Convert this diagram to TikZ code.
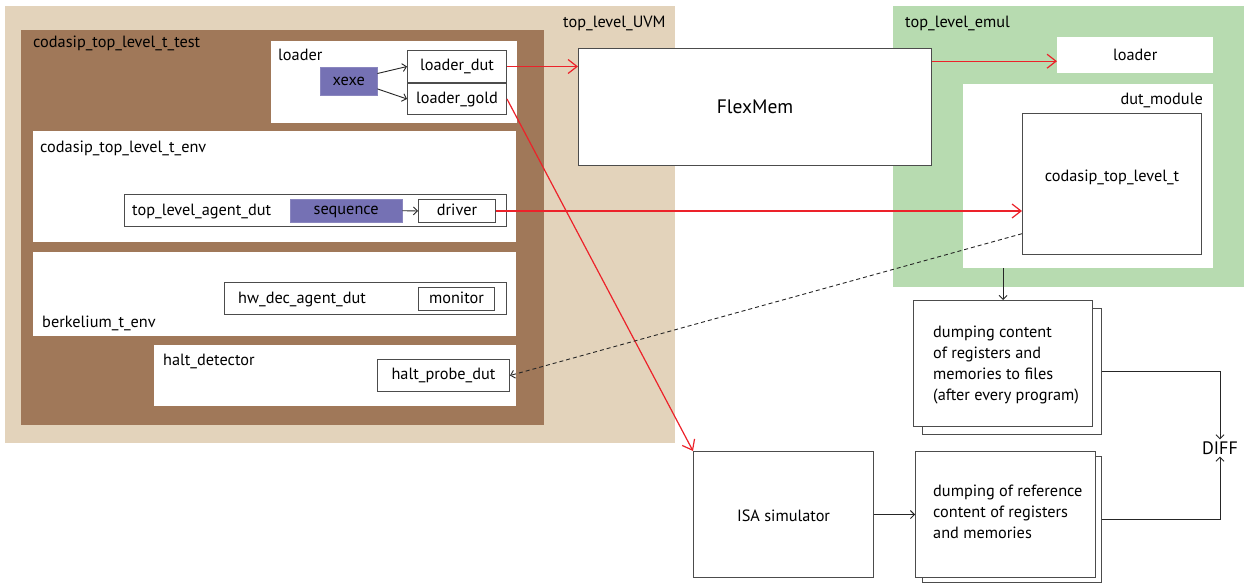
\documentclass[tikz,border=0pt]{standalone}
\usepackage{fontspec}
\setmainfont{PT Sans}
\usepackage{xcolor}
\usetikzlibrary{arrows.meta,positioning,calc}

\definecolor{uvmtan}{RGB}{227,211,187}
\definecolor{testbrown}{RGB}{160,120,89}
\definecolor{emulgreen}{RGB}{183,219,176}
\definecolor{seqblue}{RGB}{117,113,180}
\definecolor{sigred}{RGB}{236,34,42}

\begin{document}
\begin{tikzpicture}[
    x=1pt, y=-1pt,
    font=\fontsize{16.3}{18}\selectfont,
    area/.style={rectangle, fill=#1, draw=none, inner sep=0pt, anchor=north west},
    blk/.style={rectangle, draw=black!70, line width=1pt, fill=white,
        inner sep=0pt, anchor=north west, text height=11.5pt, text depth=3.5pt},
    act/.style={rectangle, fill=seqblue, draw=seqblue!85!white, inner sep=0pt,
        anchor=north west, text height=11.5pt, text depth=3.5pt},
    lbl/.style={inner sep=0pt, anchor=base west},
    arr/.style={-{Straight Barb[length=4pt,width=8pt]}, line width=0.9pt, black!85},
    sig/.style={-{Straight Barb[length=9pt,width=14pt]}, line width=1.2pt, sigred},
    dsh/.style={arr, dashed, dash pattern=on 4pt off 3pt},
]
\useasboundingbox (0,0) rectangle (1244,582);
\clip (0,0) rectangle (1244,582);

% Layer 0: containers
\node[area=uvmtan, minimum width=670, minimum height=437] (uvm) at (5,6) {};
\node[lbl] at (563,27) {top\_level\_UVM};
\node[area=testbrown, minimum width=523, minimum height=395] (test) at (21,30) {};
\node[lbl] at (33,47) {codasip\_top\_level\_t\_test};
\node[area=emulgreen, minimum width=351, minimum height=281] (emul) at (893,6) {};
\node[lbl] at (905,27) {top\_level\_emul};

% Layer 1: loader
\node[area=white, minimum width=246, minimum height=82] (ldr) at (271,41) {};
\node[lbl] at (278,60) {loader};
\node[act, minimum width=57, minimum height=28] (xexe) at (320,67) {xexe};
\node[blk, minimum width=99, minimum height=32] (ldut) at (407,50) {loader\_dut};
\node[blk, minimum width=99, minimum height=31, below=0pt of ldut] (lgold) {loader\_gold};

% Layer 2: environments
\node[area=white, minimum width=483, minimum height=111] (env) at (33,131) {};
\node[lbl] at (40,152) {codasip\_top\_level\_t\_env};
\node[blk, minimum width=382, minimum height=32] (tla) at (124,194) {};
\node[lbl] at (132,215) {top\_level\_agent\_dut};
\node[act, minimum width=112, minimum height=23] (seq) at (290,199) {sequence};
\node[blk, minimum width=77, minimum height=23] (drv) at (418,199) {driver};

\node[area=white, minimum width=483, minimum height=84] (berk) at (33,252) {};
\node[lbl] at (42,327) {berkelium\_t\_env};
\node[blk, minimum width=282, minimum height=32] (hwd) at (224,282) {};
\node[lbl] at (238,303) {hw\_dec\_agent\_dut};
\node[blk, minimum width=76, minimum height=23] (mon) at (418,287) {monitor};

\node[area=white, minimum width=362, minimum height=61] (halt) at (154,345) {};
\node[lbl] at (163,365) {halt\_detector};
\node[blk, minimum width=132, minimum height=32] (hp) at (377,359) {halt\_probe\_dut};

% Layer 3: memory model
\node[blk, minimum width=353, minimum height=117, font=\fontsize{19.5}{22}\selectfont,
    text height=17pt, text depth=4.5pt] (flex) at (578,48) {FlexMem};

% Layer 4: emulation side
\node[area=white, minimum width=156, minimum height=36] (eldr) at (1057,37) {loader};
\node[area=white, minimum width=250, minimum height=184] (dutm) at (963,84) {};
\node[lbl, anchor=base east] at (1203,104) {dut\_module};
\node[blk, minimum width=179, minimum height=141] (core) at (1022,113) {};
\node at ($(core.north)+(0,64)$) {codasip\_top\_level\_t};

% Layer 5: reference model and comparison
\node[blk, minimum width=180, minimum height=126, text height=18pt]
    (isa) at (693,451) {ISA simulator};

\node[blk, minimum width=179, minimum height=126] (d1s) at (922,308) {};
\node[blk, minimum width=179, minimum height=126] (d1) at (913,300) {};
\node[align=left, anchor=north west, inner sep=0pt, font=\fontsize{16.3}{21}\selectfont]
    at (933,326) {dumping content\\of registers and\\memories to files\\(after every program)};

\node[blk, minimum width=179, minimum height=126] (d2s) at (922,456) {};
\node[blk, minimum width=180, minimum height=126] (d2) at (915,451) {};
\node[align=left, anchor=north west, inner sep=0pt, font=\fontsize{16.3}{21}\selectfont]
    at (933,485) {dumping of reference\\content of registers\\and memories};

\node[inner sep=2pt, font=\fontsize{18}{20}\selectfont] (diff) at (1220,448) {DIFF};

% Arrows
\coordinate (ea) at ($(eldr.west)!0.33!(eldr.south west)$);
\coordinate (cw) at ($(core.west)!0.7!(core.south west)$);
\draw[arr] (xexe.15) -- (ldut.west);
\draw[arr] (xexe.-15) -- (lgold.west);
\draw[arr] (seq.east) -- (drv.west);
\draw[sig] (ldut.east) -- (ldut.east -| flex.west);
\draw[sig] (ea -| flex.east) -- (ea);
\draw[sig] (drv.east) -- (drv.east -| core.west);
\draw[sig] (lgold.east) -- (isa.north west);
\draw[dsh] (cw) -- (hp.east);
\draw[arr] (d1.north |- dutm.south) -- (d1.north);
\draw[arr] (isa.east) -- (isa.east -| d2.west);
\draw[arr] (d1s.east) -| (diff.north);
\draw[arr] (d2s.east) -| (diff.south);
\end{tikzpicture}
\end{document}
